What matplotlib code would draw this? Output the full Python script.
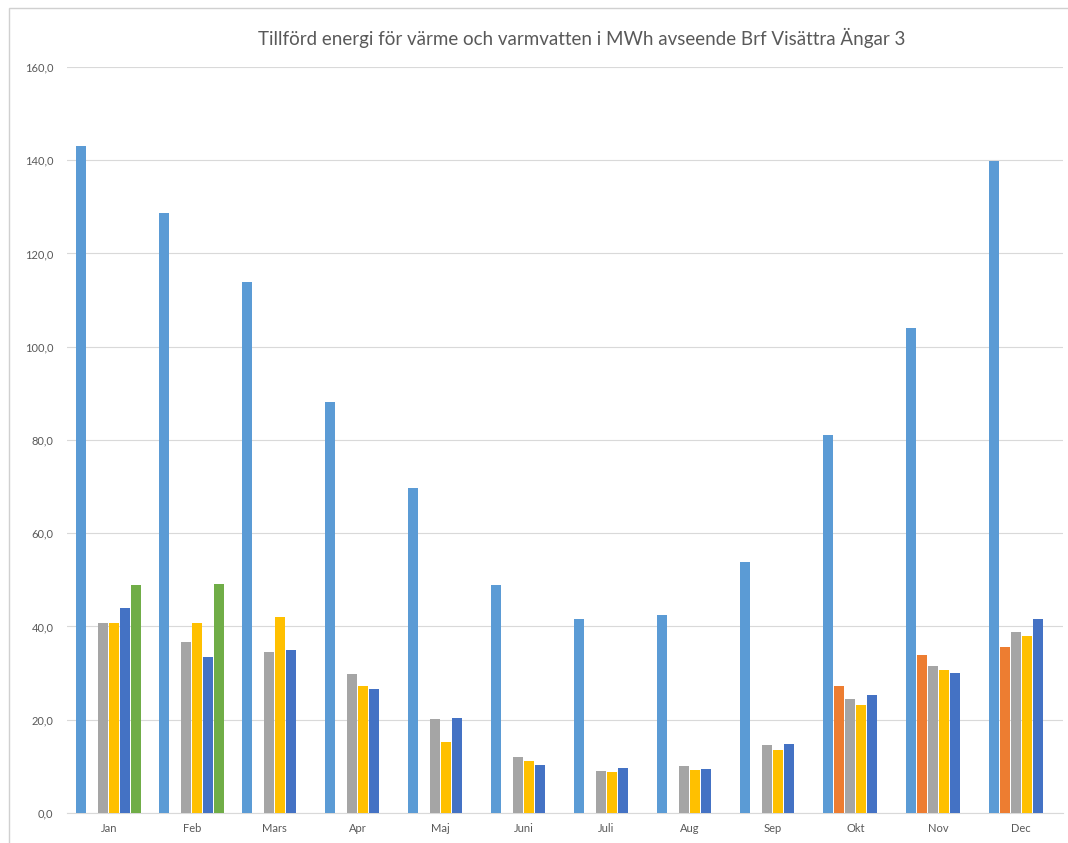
import numpy as np
import matplotlib
matplotlib.use("Agg")
import matplotlib.pyplot as plt
from matplotlib.patches import Rectangle

plt.rcParams['font.family'] = ['Lato', 'DejaVu Sans']

months = ['Jan', 'Feb', 'Mars', 'Apr', 'Maj', 'Juni', 'Juli', 'Aug', 'Sep', 'Okt', 'Nov', 'Dec']
nan = np.nan
# six series per month (Excel default palette order)
s1 = [143.0, 128.6, 113.8, 88.2, 69.6, 48.9, 41.6, 42.4, 53.9, 81.0, 104.0, 139.8]
s2 = [nan, nan, nan, nan, nan, nan, nan, nan, nan, 27.3, 33.8, 35.5]
s3 = [40.7, 36.6, 34.6, 29.8, 20.1, 12.0, 9.0, 10.0, 14.5, 24.4, 31.6, 38.8]
s4 = [40.8, 40.7, 42.0, 27.3, 15.3, 11.2, 8.8, 9.2, 13.6, 23.2, 30.6, 37.9]
s5 = [44.0, 33.5, 35.0, 26.5, 20.3, 10.3, 9.6, 9.4, 14.7, 25.2, 30.0, 41.7]
s6 = [49.0, 49.2, nan, nan, nan, nan, nan, nan, nan, nan, nan, nan]
series = [s1, s2, s3, s4, s5, s6]
colors = ['#5B9BD5', '#ED7D31', '#A5A5A5', '#FFC000', '#4472C4', '#70AD47']

fig = plt.figure(figsize=(10.68, 8.43), dpi=100)
ax = fig.add_axes([0.063, 0.0356, 0.932, 0.885])

x = np.arange(len(months))
slot = 0.1325
bw = 0.12
for i, (vals, c) in enumerate(zip(series, colors)):
    offs = (i - 2.5) * slot
    ax.bar(x + offs, vals, width=bw, color=c, zorder=3)

ax.set_xlim(-0.5, len(months) - 0.5)
ax.set_ylim(0, 160)
ax.set_yticks(np.arange(0, 161, 20))
ax.set_yticklabels([f"{v},0" for v in range(0, 161, 20)])
ax.set_xticks(x)
ax.set_xticklabels(months)
ax.tick_params(axis='both', length=0, labelsize=8, colors='#595959')
ax.tick_params(axis='y', pad=10)
ax.tick_params(axis='x', pad=7)
ax.grid(axis='y', color='#D9D9D9', linewidth=0.8, zorder=0)
for s in ['top', 'right', 'left']:
    ax.spines[s].set_visible(False)
ax.spines['bottom'].set_color('#D9D9D9')

fig.text(0.545, 0.955, 'Tillförd energi för värme och varmvatten i MWh avseende Brf Visättra Ängar 3',
         ha='center', va='center', fontsize=13.5, color='#595959')

# chart border
fig.patches.append(Rectangle((0.008, -0.01), 1.1, 1.0, transform=fig.transFigure,
                             fill=False, edgecolor='#D0D0D0', linewidth=1.0))

fig.savefig('out.png', dpi=100)
